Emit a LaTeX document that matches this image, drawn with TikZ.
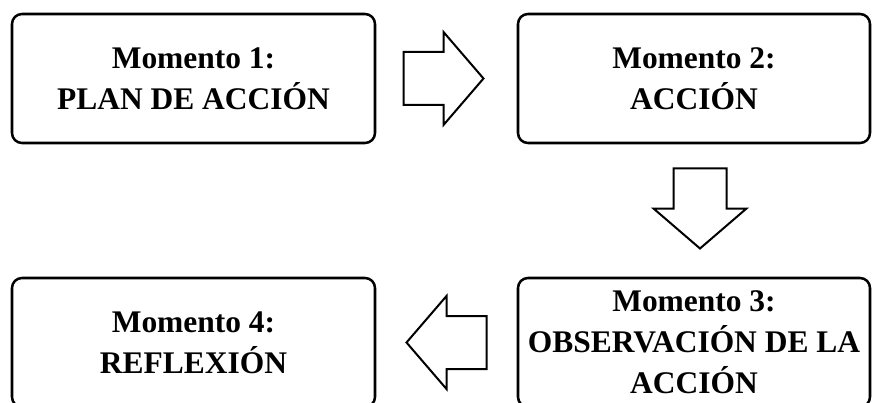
\documentclass[tikz,border=0pt]{standalone}
\usepackage{fontspec}
\setmainfont{Liberation Serif}
\usetikzlibrary{calc}

\begin{document}
\begin{tikzpicture}[x=0.75pt, y=-0.75pt,
  momento/.style={draw=black, line width=1.9pt, rounded corners=7.5pt, align=center,
    minimum height=96.75pt, inner sep=0pt, font=\fontsize{23.6}{30.75}\selectfont\bfseries},
  flecha/.pic={\draw[line width=1.5pt, line join=miter] (-40,-26.5) -- (0,-26.5) -- (0,-46.5)
    -- (40,0) -- (0,46.5) -- (0,26.5) -- (-40,26.5) -- cycle;}]
\useasboundingbox (0,0) rectangle (872,403);
\node [momento, minimum width=272.25pt] (m1) at (193.5,78.5) {Momento 1:\\PLAN DE ACCIÓN};
\node [momento, minimum width=264pt] (m2) at (694,78.5) {Momento 2:\\ACCIÓN};
\node [momento, minimum width=264pt] (m3) at (694,342.5) {Momento 3:\\OBSERVACIÓN DE LA\\ACCIÓN};
\node [momento, minimum width=272.25pt] (m4) at (193.5,342.5) {Momento 4:\\REFLEXIÓN};
\pic at ($(m1.east)!0.5!(m2.west)+(-3,0)$) {flecha};
\pic [rotate=-90] at ($(m2.south)!0.5!(m3.north)+(6,-2)$) {flecha};
\pic [rotate=180] at ($(m3.west)!0.5!(m4.east)$) {flecha};
\end{tikzpicture}
\end{document}
